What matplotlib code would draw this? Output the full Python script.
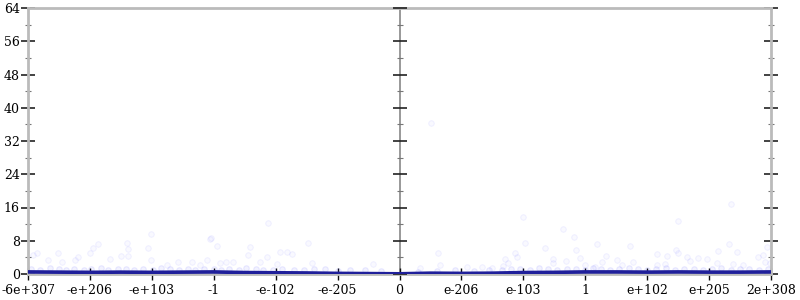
import matplotlib
matplotlib.use("Agg")
import matplotlib.pyplot as plt
import numpy as np

# x positions are in tick-slot units (0 .. 12), y is bits of error
x_tick_labels = ["-6e+307", "-e+206", "-e+103", "-1", "-e-102", "-e-205", "0",
                 "e-206", "e-103", "1", "e+102", "e+205", "2e+308"]
y_ticks = [0, 8, 16, 24, 32, 40, 48, 56, 64]
y_minor = [4, 12, 20, 28, 36, 44, 52, 60]

# scattered sample errors (faint points)
pts_x = [0.08, 0.15, 0.49, 1.05, 1.13, 1.60, 1.62, 1.50, 1.99, 1.94, 2.96,
         0.81, 0.76, 0.55, 0.32, 1.00, 1.32, 1.62, 1.99, 2.25, 2.42, 2.65, 2.78, 2.89,
         3.88, 3.05, 3.59, 4.52, 4.07, 4.18, 4.26, 3.55, 3.86, 3.75, 3.31, 3.19, 3.10,
         2.94, 4.59, 4.02, 5.57,
         8.00, 8.64, 8.82, 8.03, 8.35, 8.85, 7.87, 6.62, 7.71, 7.75, 7.90, 8.48, 8.48,
         8.69, 8.92, 9.00, 6.66, 6.33, 7.09, 7.33, 7.50, 7.67,
         6.51, 11.36, 10.50, 9.19, 9.72, 11.32, 11.45, 11.94, 10.16, 10.32, 10.47,
         10.50, 10.65, 10.82, 10.97, 11.15, 11.79, 11.87, 11.91, 11.99, 9.34, 9.27,
         9.52, 9.77, 9.60, 10.16, 10.29, 10.69, 11.13, 11.39, 11.55, 9.16]
pts_y = [4.6, 5.0, 5.0, 6.3, 7.2, 7.5, 6.0, 4.3, 9.6, 6.3, 8.7,
         4.1, 3.4, 2.9, 3.4, 5.0, 3.6, 4.3, 3.4, 2.2, 2.9, 2.9, 2.2, 3.4,
         12.3, 6.7, 6.5, 7.5, 5.3, 5.3, 4.8, 4.6, 4.1, 2.9, 2.9, 2.9, 2.6,
         8.4, 2.6, 2.4, 2.4,
         13.7, 10.8, 8.9, 7.5, 6.3, 5.8, 5.1, 5.1, 3.6, 2.6, 4.1, 3.6, 2.6,
         3.1, 3.8, 2.2, 2.2, 1.4, 1.7, 1.7, 1.4, 1.9,
         36.3, 16.8, 12.8, 7.2, 6.7, 7.2, 5.3, 6.5, 4.8, 4.3, 5.8,
         5.1, 4.1, 3.8, 3.6, 5.5, 4.1, 4.6, 2.9, 2.6, 4.3, 2.9,
         3.4, 2.9, 2.2, 2.2, 2.4, 3.1, 2.6, 2.4, 2.2, 1.7]

# dense band of samples just above the average line
band_x = [0.05, 0.2, 0.35, 0.5, 0.62, 0.75, 0.9, 1.02, 1.18, 1.3, 1.45, 1.58, 1.72,
          1.85, 2.02, 2.15, 2.3, 2.44, 2.58, 2.7, 2.85, 3.0, 3.12, 3.25, 3.4, 3.52,
          3.68, 3.8, 3.95, 4.1, 4.3, 4.45, 4.62, 4.8, 5.0, 5.2, 5.45, 5.7, 6.3, 6.6,
          6.9, 7.2, 7.45, 7.65, 7.8, 7.95, 8.1, 8.25, 8.4, 8.55, 8.7, 8.85, 9.0,
          9.12, 9.25, 9.4, 9.55, 9.7, 9.85, 10.0, 10.15, 10.3, 10.45, 10.6, 10.75,
          10.9, 11.05, 11.2, 11.35, 11.5, 11.65, 11.8, 11.95]
band_y = [1.2, 1.0, 1.4, 1.1, 0.9, 1.3, 1.0, 1.2, 1.5, 1.0, 1.1, 1.3, 0.9,
          1.2, 1.0, 1.4, 1.1, 0.9, 1.2, 1.0, 1.3, 1.1, 0.9, 1.2, 1.0, 1.4,
          1.1, 1.0, 0.9, 1.3, 1.0, 0.9, 1.2, 1.1, 0.8, 1.0, 0.9, 0.8, 0.6, 0.8,
          0.9, 0.7, 1.0, 0.9, 1.1, 1.3, 1.0, 1.4, 1.2, 0.9, 1.3, 1.1, 1.0,
          1.4, 1.2, 1.0, 1.3, 1.5, 1.1, 1.0, 1.2, 1.4, 0.9, 1.3, 1.1,
          1.0, 1.2, 1.4, 0.9, 1.1, 1.3, 1.0, 1.2]

# average error line
avg_x = [0, 0.5, 1, 1.5, 2, 2.5, 3, 3.5, 4, 4.5, 5, 5.5, 6, 6.5, 7, 7.5, 8, 8.5,
         9, 9.5, 10, 10.5, 11, 11.5, 12]
avg_y = [0.5, 0.45, 0.4, 0.45, 0.4, 0.45, 0.5, 0.35, 0.3, 0.25, 0.15, 0.1, 0.05, 0.2,
         0.15, 0.2, 0.35, 0.4, 0.5, 0.5, 0.45, 0.5, 0.45, 0.45, 0.5]

plt.rcParams['font.family'] = ['DejaVu Serif']
fig = plt.figure(figsize=(8, 3), dpi=100)
ax = fig.add_axes([28/800, 26/300, (771-28)/800, (274-8)/300])

ax.scatter(pts_x, pts_y, s=16, facecolor=(0, 0, 1, 0.025), edgecolor=(0, 0, 1, 0.05),
           linewidth=0.8, zorder=2)
ax.scatter(band_x, band_y, s=16, facecolor=(0, 0, 1, 0.05), edgecolor=(0, 0, 1, 0.08),
           linewidth=0.8, zorder=2)
ax.plot(avg_x, avg_y, color='#1f1f9a', linewidth=2.6, zorder=4, solid_capstyle='butt')

ax.set_xlim(0, 12)
ax.set_ylim(0, 64)

n = len(x_tick_labels)
ax.set_xticks(range(n))
ax.set_xticklabels(x_tick_labels, fontsize=9)
ax.set_yticks(y_ticks)
ax.set_yticklabels([str(v) for v in y_ticks], fontsize=9)
ax.set_yticks(y_minor, minor=True)

for s in ['left', 'right', 'top', 'bottom']:
    ax.spines[s].set_color('#bbbbbb')
    ax.spines[s].set_linewidth(2)

ax.tick_params(axis='y', which='major', direction='inout', length=10, width=1.2,
               color='#222222', left=True, right=True, pad=1)
ax.tick_params(axis='y', which='minor', direction='inout', length=5, width=0.8,
               color='#777777', left=True, right=True)
ax.tick_params(axis='x', which='major', direction='inout', length=8, width=1,
               color='#111111', pad=3)

# center axis at zero
ax.axvline(6, color='#888888', linewidth=1.2, zorder=1)
ax.plot([6]*len(y_ticks), y_ticks, linestyle='none', marker='_', markersize=10,
        markeredgewidth=1.2, color='#222222', zorder=3, clip_on=False)
ax.plot([6]*len(y_minor), y_minor, linestyle='none', marker='_', markersize=5,
        markeredgewidth=0.8, color='#777777', zorder=3)

fig.savefig('out.png', dpi=100)
